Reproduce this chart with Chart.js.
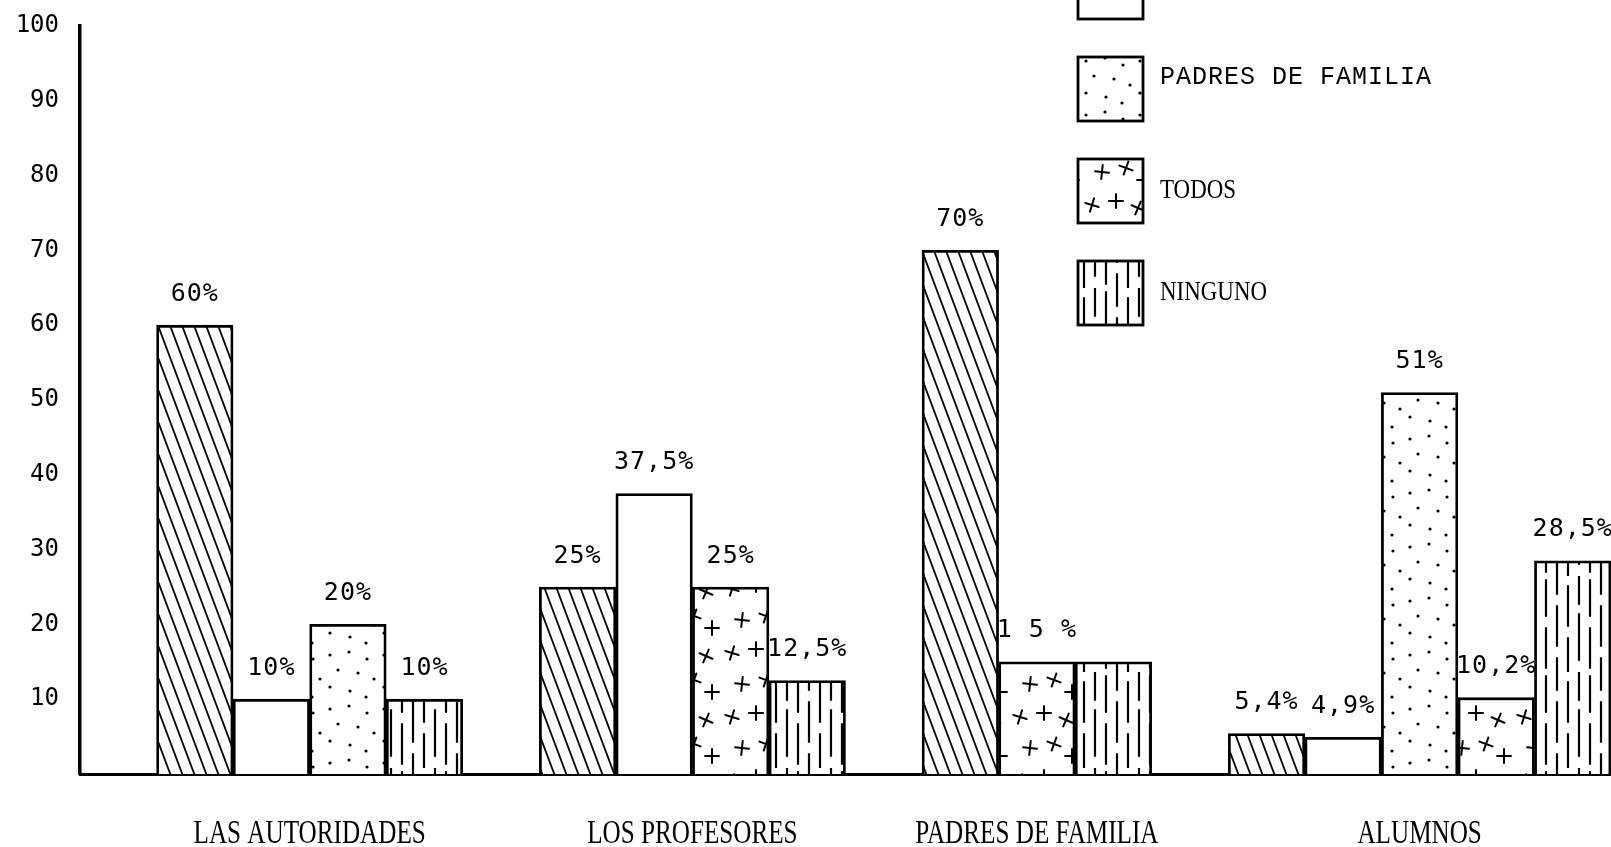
<!DOCTYPE html>
<html lang="es">
<head>
<meta charset="utf-8">
<title>Gráfico de barras</title>
<script src="https://cdn.jsdelivr.net/npm/chart.js@4.4.1/dist/chart.umd.min.js"></script>
<style>
  html, body { margin: 0; padding: 0; background: #fff; }
  #caja { width: 1611px; height: 847px; position: relative; }
</style>
</head>
<body>
<div id="caja"><canvas id="grafico"></canvas></div>
<script>
/* ── Datos ─────────────────────────────────────────────────────────────── */
const categorias = ['LAS AUTORIDADES', 'LOS PROFESORES', 'PADRES DE FAMILIA', 'ALUMNOS'];
const series     = ['LAS AUTORIDADES', 'LOS PROFESORES', 'PADRES DE FAMILIA', 'TODOS', 'NINGUNO'];

// un valor por categoría (null = sin barra)
const serieAutoridades = [60, 25, 70, 5.4];
const serieProfesores  = [10, 37.5, null, 4.9];
const seriePadres      = [20, null, null, 51];
const serieTodos       = [null, 25, 15, 10.2];
const serieNinguno     = [10, 12.5, 15, 28.5];

// rótulos tal como aparecen sobre las barras
const etqAutoridades = ['60%', '25%', '70%', '5,4%'];
const etqProfesores  = ['10%', '37,5%', null, '4,9%'];
const etqPadres      = ['20%', null, null, '51%'];
const etqTodos       = [null, '25%', '1 5 %', '10,2%'];
const etqNinguno     = ['10%', '12,5%', null, '28,5%'];

const ticksY = [10, 20, 30, 40, 50, 60, 70, 80, 90, 100];

const valores   = [serieAutoridades, serieProfesores, seriePadres, serieTodos, serieNinguno];
const etiquetas = [etqAutoridades, etqProfesores, etqPadres, etqTodos, etqNinguno];

/* ── Tramas ────────────────────────────────────────────────────────────── */
const canvas = document.getElementById('grafico');
const ctx0 = canvas.getContext('2d');

function trama(w, h, dibujar) {
  const c = document.createElement('canvas');
  c.width = w; c.height = h;
  const g = c.getContext('2d');
  g.fillStyle = '#fff';
  g.fillRect(0, 0, w, h);
  g.strokeStyle = '#000';
  g.fillStyle = '#000';
  g.lineCap = 'round';
  dibujar(g, w, h);
  return ctx0.createPattern(c, 'repeat');
}

const tramaDiagonal = trama(12, 32, (g, w, h) => {
  g.lineWidth = 1.8;
  for (const k of [-1, 0, 1]) {
    g.beginPath();
    g.moveTo(k * w, 0);
    g.lineTo(k * w + w, h);
    g.stroke();
  }
});

const tramaPuntos = trama(54, 54, g => {
  const pts = [[6, 7], [25, 4], [43, 11], [14, 22], [34, 25], [50, 31], [6, 39], [26, 43], [42, 49]];
  pts.forEach(([x, y]) => { g.beginPath(); g.arc(x, y, 1.6, 0, Math.PI * 2); g.fill(); });
});

const tramaCruces = trama(72, 64, g => {
  g.lineWidth = 2;
  const cr = [[12, 13, 0.3], [36, 9, 0], [58, 16, 0.4], [22, 44, 0.1], [46, 40, 0.35], [64, 52, 0]];
  cr.forEach(([x, y, a]) => {
    g.save();
    g.translate(x, y);
    g.rotate(a);
    g.beginPath();
    g.moveTo(-7, 0); g.lineTo(7, 0);
    g.moveTo(0, -7); g.lineTo(0, 7);
    g.stroke();
    g.restore();
  });
});

const tramaVertical = trama(44, 96, g => {
  g.lineWidth = 2.2;
  const cols = [
    [6,  [[4, 40], [52, 92]]],
    [17, [[0, 18], [30, 70], [82, 96]]],
    [28, [[10, 50], [62, 96]]],
    [39, [[0, 28], [38, 84]]]
  ];
  cols.forEach(([x, segs]) => {
    segs.forEach(([a, b]) => { g.beginPath(); g.moveTo(x, a); g.lineTo(x, b); g.stroke(); });
  });
});

const tramas = [tramaDiagonal, '#fff', tramaPuntos, tramaCruces, tramaVertical];

/* ── Ranuras: un hueco y luego las barras de cada categoría ────────────── */
const ranuras = [];
categorias.forEach((c, ci) => {
  ranuras.push(null);
  valores.forEach((arr, si) => {
    if (arr[ci] != null) ranuras.push({ ci, si });
  });
});

const datasets = valores.map((arr, si) => ({
  label: series[si],
  data: ranuras.map(r => (r && r.si === si ? arr[r.ci] : null)),
  rotulos: ranuras.map(r => (r && r.si === si ? etiquetas[si][r.ci] : null)),
  backgroundColor: tramas[si],
  borderColor: '#000',
  borderWidth: 2.8,
  borderSkipped: 'bottom',
  categoryPercentage: 1,
  barPercentage: 1
}));

/* ── Plugins ───────────────────────────────────────────────────────────── */
const rotulosBarras = {
  id: 'rotulosBarras',
  afterDatasetsDraw(chart) {
    const ctx = chart.ctx;
    ctx.save();
    ctx.font = '25px "DejaVu Sans Mono"';
    ctx.letterSpacing = '1px';
    ctx.fillStyle = '#000';
    ctx.textAlign = 'center';
    ctx.textBaseline = 'middle';
    chart.data.datasets.forEach((ds, di) => {
      chart.getDatasetMeta(di).data.forEach((el, i) => {
        const t = ds.rotulos[i];
        if (!t || ds.data[i] == null) return;
        ctx.fillText(t, el.x, el.y - 31);
      });
    });
    ctx.restore();
  }
};

const rotulosCategorias = {
  id: 'rotulosCategorias',
  afterDraw(chart) {
    const ctx = chart.ctx;
    const x = chart.scales.x;
    const y = chart.chartArea.bottom + 60;
    ctx.save();
    ctx.font = '34px "Liberation Serif"';
    ctx.fillStyle = '#000';
    ctx.textAlign = 'center';
    ctx.textBaseline = 'middle';
    categorias.forEach((c, ci) => {
      const idx = ranuras.map((r, i) => (r && r.ci === ci ? i : -1)).filter(i => i >= 0);
      const cx = (x.getPixelForValue(idx[0]) + x.getPixelForValue(idx[idx.length - 1])) / 2;
      ctx.save();
      ctx.translate(cx, y);
      ctx.scale(0.74, 1);
      ctx.fillText(c, 0, 0);
      ctx.restore();
    });
    ctx.restore();
  }
};

const leyenda = {
  id: 'leyenda',
  afterDraw(chart) {
    const ctx = chart.ctx;
    const x0 = 1078, w = 65, h = 64, paso = 102;
    ctx.save();
    series.forEach((s, i) => {
      const top = -45 + (i - 1) * paso;
      ctx.fillStyle = tramas[i];
      ctx.fillRect(x0, top, w, h);
      ctx.lineWidth = 2.8;
      ctx.strokeStyle = '#000';
      ctx.strokeRect(x0, top, w, h);
      const cy = top + h / 2;
      if (cy + 14 < 0) return; // rótulo fuera del recorte
      ctx.fillStyle = '#000';
      ctx.textAlign = 'left';
      ctx.textBaseline = 'middle';
      if (s === 'PADRES DE FAMILIA') {
        ctx.font = '25px "Liberation Mono"';
        ctx.letterSpacing = '1px';
        ctx.fillText(s, x0 + w + 17, cy - 12);
        ctx.letterSpacing = '0px';
      } else {
        ctx.save();
        ctx.font = '27px "Liberation Serif"';
        ctx.translate(x0 + w + 17, cy);
        ctx.scale(0.85, 1);
        ctx.fillText(s, 0, 0);
        ctx.restore();
      }
    });
    ctx.restore();
  }
};

/* ── Gráfico ───────────────────────────────────────────────────────────── */
new Chart(canvas, {
  type: 'bar',
  data: {
    labels: ranuras.map((r, i) => String(i)),
    datasets
  },
  options: {
    responsive: true,
    maintainAspectRatio: false,
    animation: false,
    layout: { padding: { top: 26, right: 0, bottom: 0, left: 0 } },
    plugins: {
      legend: { display: false },
      tooltip: { enabled: false }
    },
    scales: {
      x: {
        stacked: true,
        grid: { display: false, drawTicks: false },
        border: { display: true, color: '#000', width: 3 },
        ticks: { display: false },
        afterFit: s => { s.height = 73; s.paddingLeft = 0; s.paddingRight = 0; }
      },
      y: {
        stacked: true,
        min: 0,
        max: 100,
        grid: { display: false, drawTicks: false },
        border: { display: true, color: '#000', width: 3.5 },
        afterBuildTicks: s => { s.ticks = ticksY.map(v => ({ value: v })); },
        ticks: {
          padding: 21,
          color: '#000',
          font: { family: '"DejaVu Sans Mono"', size: 24 }
        },
        afterFit: s => { s.width = 80; s.paddingTop = 0; s.paddingBottom = 0; }
      }
    }
  },
  plugins: [rotulosBarras, rotulosCategorias, leyenda]
});
</script>
</body>
</html>
